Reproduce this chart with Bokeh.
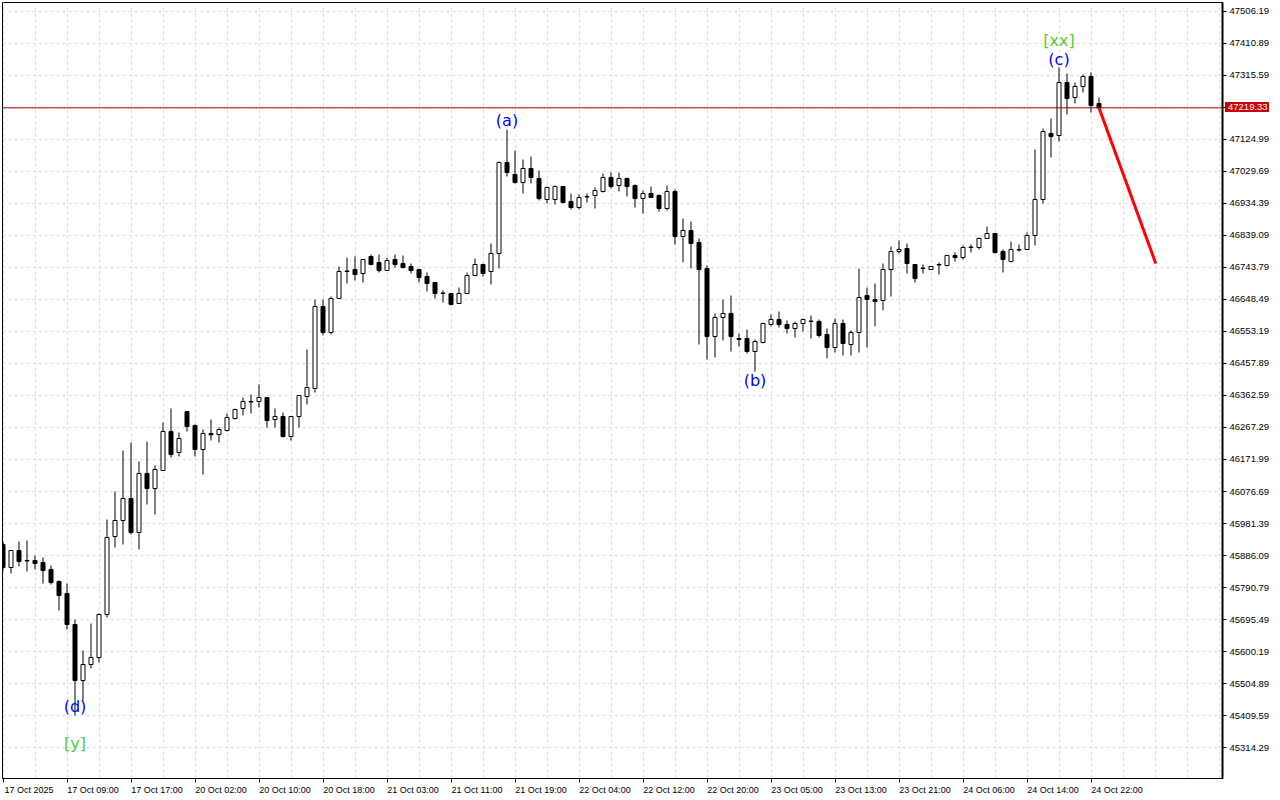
from bokeh.plotting import figure
from bokeh.layouts import column
from bokeh.models import Range1d, FixedTicker, NumeralTickFormatter, Span, ColumnDataSource, Div
from bokeh.core.properties import value
from bokeh.embed import file_html
from bokeh.resources import INLINE

# ---------------- data (hourly candles, 17 Oct 2025 01:00 -> 24 Oct 2025 23:00) ----------------
opens = [45918.85, 45850.35, 45900.98, 45871.20, 45871.20, 45865.24, 45844.40, 45808.66, 45772.92, 45680.60,
         45513.83, 45561.48, 45582.32, 45710.38, 45942.68, 45990.33, 46055.84, 45954.59, 46130.30, 46085.63,
         46139.23, 46255.38, 46192.84, 46314.94, 46273.25, 46201.77, 46249.42, 46246.44, 46258.36, 46294.09,
         46323.88, 46344.72, 46344.72, 46356.63, 46291.12, 46300.05, 46240.49, 46300.05, 46359.61, 46383.44,
         46627.64, 46550.21, 46651.47, 46733.37, 46737.83, 46725.92, 46776.55, 46758.68, 46734.86, 46767.62,
         46755.70, 46746.77, 46737.83, 46716.99, 46699.12, 46667.85, 46666.36, 46636.58, 46666.36, 46719.97,
         46752.73, 46731.88, 46785.48, 47056.49, 47020.76, 46996.93, 47038.63, 47008.84, 46946.30, 46946.30,
         46985.02, 46940.35, 46922.48, 46955.24, 46958.22, 46970.13, 47011.82, 46988.00, 47008.84, 46988.00,
         46949.28, 46964.17, 46958.22, 46919.50, 46970.13, 46836.11, 46853.98, 46818.24, 46740.81, 46538.30,
         46594.88, 46606.80, 46529.37, 46532.34, 46493.63, 46520.43, 46574.04, 46588.93, 46574.04, 46562.13,
         46577.02, 46584.46, 46582.97, 46544.26, 46505.54, 46577.02, 46514.48, 46550.21, 46660.40, 46648.49,
         46645.51, 46737.83, 46791.44, 46800.38, 46752.73, 46742.30, 46737.83, 46752.73, 46749.75, 46779.53,
         46773.57, 46804.84, 46803.35, 46830.16, 46845.05, 46791.44, 46761.66, 46797.40, 46797.40, 46839.09,
         46946.30, 47142.86, 47136.90, 47294.74, 47250.07, 47282.83, 47312.61, 47232.20]
highs = [45927.78, 45900.98, 45927.78, 45930.76, 45886.09, 45880.13, 45856.31, 45811.64, 45802.70, 45695.49,
         45603.17, 45683.58, 45713.36, 45993.30, 46076.69, 46198.79, 46222.62, 46166.03, 46225.60, 46154.12,
         46282.18, 46323.88, 46252.40, 46314.94, 46276.23, 46261.33, 46291.12, 46267.29, 46308.98, 46323.88,
         46356.63, 46365.57, 46395.35, 46356.63, 46323.88, 46311.96, 46300.05, 46362.59, 46499.58, 46648.49,
         46648.49, 46657.43, 46746.77, 46773.57, 46776.55, 46767.62, 46782.51, 46782.51, 46773.57, 46782.51,
         46779.53, 46755.70, 46737.83, 46728.90, 46699.12, 46675.29, 46666.36, 46684.23, 46728.90, 46770.59,
         46755.70, 46815.27, 47059.47, 47154.77, 47092.23, 47065.43, 47074.36, 47032.67, 46985.02, 46988.00,
         46985.02, 46964.17, 46961.19, 46964.17, 46982.04, 47023.73, 47026.71, 47026.71, 47011.82, 46990.98,
         46973.11, 46985.02, 46961.19, 46988.00, 46976.08, 46889.72, 46880.78, 46830.16, 46749.75, 46606.80,
         46648.49, 46660.40, 46547.23, 46559.15, 46529.37, 46580.00, 46603.82, 46612.75, 46585.95, 46582.97,
         46591.91, 46600.84, 46588.93, 46562.13, 46591.91, 46588.93, 46556.17, 46740.81, 46684.23, 46696.14,
         46755.70, 46806.33, 46824.20, 46815.27, 46752.73, 46752.73, 46746.77, 46758.68, 46779.53, 46788.46,
         46809.31, 46812.29, 46833.13, 46865.89, 46845.05, 46797.40, 46821.22, 46812.29, 46848.03, 47095.21,
         47157.75, 47187.53, 47339.42, 47321.55, 47294.74, 47318.57, 47324.53, 47250.07]
lows = [45841.42, 45832.48, 45853.33, 45838.44, 45844.40, 45802.70, 45799.73, 45722.29, 45665.71, 45409.59,
        45454.26, 45549.56, 45567.43, 45701.45, 45909.92, 45918.85, 45948.63, 45903.96, 46037.98, 46008.19,
        46139.23, 46177.95, 46180.93, 46255.38, 46180.93, 46127.32, 46228.58, 46222.62, 46255.38, 46291.12,
        46303.03, 46308.98, 46326.85, 46267.29, 46267.29, 46237.51, 46228.58, 46267.29, 46335.79, 46371.53,
        46541.28, 46544.26, 46651.47, 46696.14, 46705.08, 46699.12, 46749.75, 46728.90, 46734.86, 46743.79,
        46740.81, 46725.92, 46699.12, 46672.32, 46651.47, 46639.56, 46630.62, 46636.58, 46666.36, 46716.99,
        46716.99, 46693.16, 46740.81, 47014.80, 46993.95, 46964.17, 46993.95, 46943.33, 46934.39, 46931.41,
        46934.39, 46916.52, 46916.52, 46937.37, 46919.50, 46967.15, 46979.06, 46970.13, 46955.24, 46922.48,
        46904.61, 46952.26, 46910.57, 46913.54, 46812.29, 46758.68, 46740.81, 46514.48, 46469.80, 46475.76,
        46526.39, 46493.63, 46508.52, 46487.67, 46434.07, 46517.45, 46568.08, 46565.10, 46547.23, 46535.32,
        46553.19, 46532.34, 46535.32, 46472.78, 46490.65, 46481.72, 46481.72, 46490.65, 46505.54, 46568.08,
        46615.73, 46657.43, 46785.48, 46725.92, 46699.12, 46725.92, 46736.34, 46722.94, 46746.77, 46761.66,
        46767.62, 46788.46, 46797.40, 46830.16, 46785.48, 46728.90, 46758.68, 46791.44, 46797.40, 46809.31,
        46934.39, 47071.38, 47119.03, 47199.44, 47232.20, 47264.96, 47205.40, 47219.33]
closes = [45850.35, 45900.98, 45868.22, 45869.71, 45862.27, 45841.42, 45805.68, 45766.97, 45680.60, 45513.83,
          45561.48, 45582.32, 45710.38, 45939.70, 45990.33, 46055.84, 45954.59, 46130.30, 46085.63, 46142.21,
          46255.38, 46186.88, 46234.53, 46270.27, 46201.77, 46249.42, 46245.55, 46261.33, 46297.07, 46320.90,
          46344.72, 46343.23, 46356.63, 46288.14, 46300.05, 46240.49, 46300.05, 46362.59, 46386.42, 46627.64,
          46550.21, 46651.47, 46731.88, 46731.88, 46722.94, 46767.62, 46752.73, 46734.86, 46764.64, 46752.73,
          46743.79, 46734.86, 46714.01, 46696.14, 46666.36, 46666.36, 46633.60, 46666.36, 46719.97, 46752.73,
          46725.92, 46785.48, 47056.49, 47026.71, 46996.93, 47038.63, 47011.82, 46949.28, 46982.04, 46985.02,
          46937.37, 46922.48, 46952.26, 46953.75, 46973.11, 47011.82, 46985.02, 47008.84, 46985.02, 46949.28,
          46964.17, 46952.26, 46919.50, 46970.13, 46836.11, 46853.98, 46815.27, 46737.83, 46538.30, 46594.88,
          46606.80, 46538.30, 46532.34, 46493.63, 46523.41, 46577.02, 46588.93, 46574.04, 46562.13, 46577.02,
          46588.93, 46582.97, 46541.28, 46505.54, 46577.02, 46517.45, 46550.21, 46654.45, 46648.49, 46642.53,
          46737.83, 46791.44, 46797.40, 46755.70, 46711.03, 46740.81, 46746.77, 46751.24, 46779.53, 46773.57,
          46803.35, 46803.35, 46830.16, 46845.05, 46788.46, 46767.62, 46797.40, 46795.91, 46839.09, 46946.30,
          47148.82, 47133.93, 47294.74, 47247.09, 47282.83, 47312.61, 47226.25, 47219.33]

x_tick_index = [0, 8, 16, 24, 32, 40, 48, 56, 64, 72, 80, 88, 96, 104, 112, 120, 128, 136]
x_tick_labels = ["17 Oct 2025", "17 Oct 09:00", "17 Oct 17:00", "20 Oct 02:00", "20 Oct 10:00",
                 "20 Oct 18:00", "21 Oct 03:00", "21 Oct 11:00", "21 Oct 19:00", "22 Oct 04:00",
                 "22 Oct 12:00", "22 Oct 20:00", "23 Oct 05:00", "23 Oct 13:00", "23 Oct 21:00",
                 "24 Oct 06:00", "24 Oct 14:00", "24 Oct 22:00"]
price_ticks = [47506.19, 47410.89, 47315.59, 47220.29, 47124.99, 47029.69, 46934.39, 46839.09,
               46743.79, 46648.49, 46553.19, 46457.89, 46362.59, 46267.29, 46171.99, 46076.69,
               45981.39, 45886.09, 45790.79, 45695.49, 45600.19, 45504.89, 45409.59, 45314.29]
last_price = 47219.33

forecast_index = [137, 144.1]
forecast_price = [47219.33, 46755.70]

wave_text = ["(a)", "(b)", "(c)", "[xx]", "(d)", "[y]"]
wave_index = [63, 94, 132, 132, 9, 9]
wave_price = [47181.58, 46407.26, 47363.24, 47419.83, 45436.39, 45326.20]
wave_color = ["#0000FF", "#0000FF", "#0000FF", "#55CC33", "#0000FF", "#55CC33"]

# ---------------- layout ----------------
BAR_PX = 8
FRAME_W = 1220
X_START = -0.0625
X_END = X_START + FRAME_W / BAR_PX
Y_LO, Y_HI = 45221.97, 47532.99
AXIS_FONT = "Liberation Sans"
LABEL_SHIFT = 3.25   # bars: axis labels start just right of their tick

p = figure(width=1280, height=800,
           x_range=Range1d(X_START, X_END), y_range=Range1d(Y_LO, Y_HI),
           y_axis_location="right", toolbar_location=None, output_backend="svg",
           min_border_left=2, min_border_top=2, min_border_right=58, min_border_bottom=22)
p.background_fill_color = "white"
p.border_fill_color = "white"
p.outline_line_color = "black"
p.outline_line_width = 1

# grids
p.xgrid.ticker = FixedTicker(ticks=list(range(0, 156, 4)))
p.ygrid.ticker = FixedTicker(ticks=price_ticks)
for g in (p.xgrid, p.ygrid):
    g.grid_line_color = "#DCDCDC"
    g.grid_line_dash = "3 3"
    g.grid_line_width = 1

# x axis: tick marks at the bars (minor ticks), labels start right of them
label_pos = [i + LABEL_SHIFT for i in x_tick_index]
p.xaxis.ticker = FixedTicker(ticks=label_pos, minor_ticks=x_tick_index)
p.xaxis.major_label_overrides = {t: lab for t, lab in zip(label_pos, x_tick_labels)}
p.xaxis.major_label_text_font = AXIS_FONT
p.xaxis.major_label_text_font_size = "9px"
p.xaxis.major_label_text_color = "black"
p.xaxis.major_label_standoff = 2
p.xaxis.major_tick_out = 0
p.xaxis.major_tick_in = 0
p.xaxis.minor_tick_out = 4
p.xaxis.minor_tick_in = 0
p.xaxis.minor_tick_line_color = "black"
p.xaxis.axis_line_color = "black"

# y axis
p.yaxis.ticker = FixedTicker(ticks=price_ticks)
p.yaxis.formatter = NumeralTickFormatter(format="0.00")
p.yaxis.major_label_overrides = {47220.29: ""}
p.yaxis.major_label_text_font = AXIS_FONT
p.yaxis.major_label_text_font_size = "9.5px"
p.yaxis.major_label_text_color = "black"
p.yaxis.major_label_standoff = 3
p.yaxis.major_tick_out = 4
p.yaxis.major_tick_in = 0
p.yaxis.minor_tick_out = 0
p.yaxis.minor_tick_in = 0
p.yaxis.axis_line_color = "black"
p.yaxis.axis_line_width = 2

# current price line
p.add_layout(Span(location=last_price, dimension="width", line_color="#A00000", line_width=1))

# candles
idx = list(range(len(opens)))
up = [c >= o for o, c in zip(opens, closes)]
p.segment(x0=idx, y0=lows, x1=idx, y1=highs, line_color="black", line_width=1)
up_src = ColumnDataSource(dict(x=[i for i, u in zip(idx, up) if u],
                               top=[c for c, u in zip(closes, up) if u],
                               bottom=[o for o, u in zip(opens, up) if u]))
dn_src = ColumnDataSource(dict(x=[i for i, u in zip(idx, up) if not u],
                               top=[o for o, u in zip(opens, up) if not u],
                               bottom=[c for c, u in zip(closes, up) if not u]))
p.vbar(x="x", top="top", bottom="bottom", width=0.5, source=up_src,
       fill_color="white", line_color="black", line_width=1)
p.vbar(x="x", top="top", bottom="bottom", width=0.5, source=dn_src,
       fill_color="black", line_color="black", line_width=1)

# forecast line
p.line(forecast_index, forecast_price, line_color="#FF0000", line_width=3)

# wave labels
p.text(x=wave_index, y=wave_price, text=wave_text, text_color=wave_color,
       text_font=value("DejaVu Sans"), text_font_size="16px",
       text_align="center", text_baseline="middle")

# current price box on the price scale
price_box = Div(text=f"{last_price:.2f}", width=44, height=10, margin=0,
                styles={"position": "absolute", "left": "1225px", "top": "102px",
                        "background-color": "#C80000", "color": "white",
                        "font-family": "Liberation Sans", "font-size": "9.5px",
                        "line-height": "10px", "padding-left": "3px",
                        "box-sizing": "border-box", "z-index": "10"})

layout = column(p, price_box, spacing=0)
open("out.html", "w").write(file_html(layout, INLINE))
